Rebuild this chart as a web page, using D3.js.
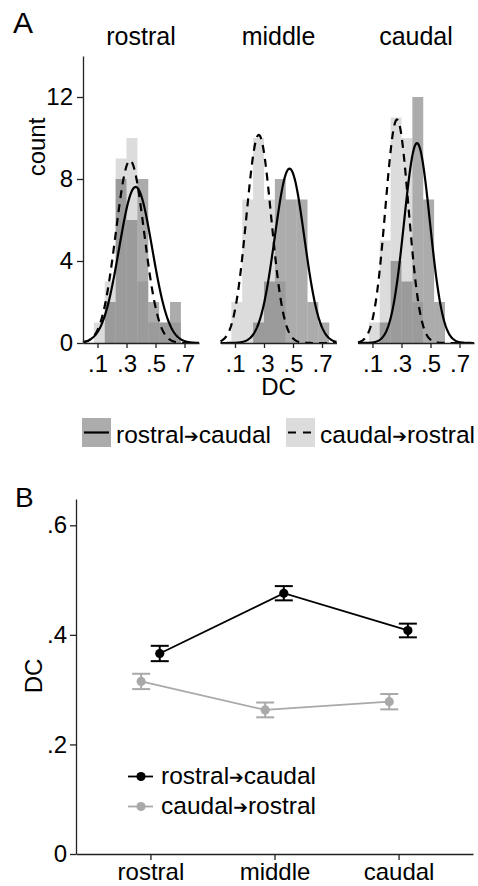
<!DOCTYPE html>
<html>
<head>
<meta charset="utf-8">
<script src="https://cdn.jsdelivr.net/npm/d3@7"></script>
<style>
body { margin: 0; background: #fff; }
svg text { font-family: "Liberation Sans", Arial, sans-serif; fill: #000; }
</style>
</head>
<body>
<script>
// ---- data ----
var regions = ["rostral", "middle", "caudal"];

// panel A: histogram counts, bins of .075 starting at 0
var binStart = [0, 0.075, 0.15, 0.225, 0.3, 0.375, 0.45, 0.525, 0.6, 0.675, 0.75];
var binWidth = 0.075;
var rcRostral = [0, 0, 2, 8, 6, 8, 2, 1, 2, 0, 0];
var crRostral = [0, 1, 3, 9, 10, 3, 1, 1, 1, 0, 0];
var rcMiddle  = [0, 0, 0, 1, 3, 8, 7, 7, 2, 1, 0];
var crMiddle  = [0, 2, 7, 10, 7, 3, 0, 0, 0, 0, 0];
var rcCaudal  = [0, 0, 1, 4, 3, 12, 7, 2, 0, 0, 0];
var crCaudal  = [0, 1, 5, 11, 10, 2, 0, 0, 0, 0, 0];

// fitted normal curves (mean, sd) per region
var rcFitMean = [0.363, 0.476, 0.407];
var rcFitSd   = [0.114, 0.102, 0.089];
var crFitMean = [0.324, 0.264, 0.269];
var crFitSd   = [0.0975, 0.0855, 0.0796];

var xTicksA = [0.1, 0.3, 0.5, 0.7];
var yTicksA = [0, 4, 8, 12];

// panel B: mean DC and standard error
var rcMean = [0.366, 0.476, 0.408];
var rcSe   = [0.014, 0.013, 0.0125];
var crMean = [0.315, 0.263, 0.278];
var crSe   = [0.014, 0.0135, 0.014];
var yTicksB = [0, 0.2, 0.4, 0.6];

var rcLabel = ["rostral", "caudal"];
var crLabel = ["caudal", "rostral"];

// ---- drawing ----
var w = 478, h = 886;
var fs = 24;
var rcOnly = "#acacac", crOnly = "#dcdcdc", grey = "#a9a9a9";

var svg = d3.select("body").append("svg")
  .attr("width", w)
  .attr("height", h);

function dcFormat(d) {
  return d === 0 ? "0" : d3.format(".1f")(d).replace(/^0/, "");
}

function styleAxis(g) {
  g.attr("font-size", fs).attr("font-family", null);
  g.selectAll("path, line").attr("stroke", "#222").attr("stroke-width", 1.3);
}

// "from -> to" label with a heavy arrow
function arrowLabel(sel, parts) {
  sel.append("tspan").text(parts[0]);
  sel.append("tspan")
    .attr("font-family", "DejaVu Sans")
    .attr("font-size", 17.5)
    .attr("dy", -1)
    .text("\u2794");
  sel.append("tspan").attr("dy", 1).text(parts[1]);
}

// panel labels
svg.append("text").attr("x", 13).attr("y", 33).attr("font-size", 30).text("A");
svg.append("text").attr("x", 15).attr("y", 507).attr("font-size", 28).text("B");

// ----- panel A -----
var facet = d3.scaleBand().domain(regions).range([83, 474]).paddingInner(0.156);
var yA = d3.scaleLinear().domain([0, 14]).range([343, 56]);
var counts = [[rcRostral, crRostral], [rcMiddle, crMiddle], [rcCaudal, crCaudal]];

regions.forEach(function(r, i) {
  var g = svg.append("g").attr("transform", "translate(" + facet(r) + ",0)");
  var x = d3.scaleLinear().domain([0, 0.8]).range([0, facet.bandwidth()]);

  g.append("text")
    .attr("x", facet.bandwidth() / 2)
    .attr("y", 45)
    .attr("text-anchor", "middle")
    .attr("font-size", 25)
    .text(r);

  // caudal->rostral first, rostral->caudal on top (both half transparent)
  [[counts[i][1], "#b9b9b9"], [counts[i][0], "#595959"]].forEach(function(s) {
    var bins = binStart.map(function(b, j) { return {b: b, c: s[0][j]}; })
      .filter(function(d) { return d.c > 0; });
    g.append("g").selectAll("rect")
      .data(bins)
      .enter()
      .append("rect")
      .attr("x", function(d) { return x(d.b); })
      .attr("width", x(binWidth) - x(0))
      .attr("y", function(d) { return yA(d.c); })
      .attr("height", function(d) { return yA(0) - yA(d.c); })
      .attr("fill", s[1])
      .attr("fill-opacity", 0.5);
  });

  // normal curves scaled to counts
  var grid = d3.range(0, 0.8001, 0.004);
  var fits = [
    [crFitMean[i], crFitSd[i], d3.sum(counts[i][1]), "8,6"],
    [rcFitMean[i], rcFitSd[i], d3.sum(counts[i][0]), null]
  ];
  fits.forEach(function(f) {
    var line = d3.line()
      .x(function(v) { return x(v); })
      .y(function(v) {
        var z = (v - f[0]) / f[1];
        return yA(f[2] * binWidth * Math.exp(-0.5 * z * z) / (f[1] * Math.sqrt(2 * Math.PI)));
      });
    g.append("path")
      .datum(grid)
      .attr("d", line)
      .attr("fill", "none")
      .attr("stroke", "#000")
      .attr("stroke-width", 2.2)
      .attr("stroke-dasharray", f[3]);
  });

  g.append("g")
    .attr("transform", "translate(0,343)")
    .call(d3.axisBottom(x).tickValues(xTicksA).tickFormat(dcFormat)
      .tickSize(5).tickSizeOuter(0).tickPadding(7))
    .call(styleAxis);
});

svg.append("g")
  .attr("transform", "translate(83,0)")
  .call(d3.axisLeft(yA).tickValues(yTicksA).tickFormat(d3.format("d"))
    .tickSize(6).tickSizeOuter(0).tickPadding(4))
  .call(styleAxis);

svg.append("text")
  .attr("transform", "translate(45,147) rotate(-90)")
  .attr("text-anchor", "middle")
  .attr("font-size", fs)
  .text("count");

svg.append("text")
  .attr("x", facet("middle") + facet.bandwidth() / 2)
  .attr("y", 395)
  .attr("text-anchor", "middle")
  .attr("font-size", fs)
  .text("DC");

// legend A
var legA = [
  {x: 82, fill: rcOnly, dash: null, label: rcLabel},
  {x: 286, fill: crOnly, dash: "8,7", label: crLabel}
];
legA.forEach(function(d) {
  svg.append("rect").attr("x", d.x).attr("y", 418).attr("width", 29).attr("height", 29).attr("fill", d.fill);
  svg.append("line")
    .attr("x1", d.x + 2).attr("x2", d.x + 27)
    .attr("y1", 432.5).attr("y2", 432.5)
    .attr("stroke", "#000").attr("stroke-width", 2.2)
    .attr("stroke-dasharray", d.dash);
  svg.append("text").attr("x", d.x + 34).attr("y", 443).attr("font-size", 24.5)
    .call(arrowLabel, d.label);
});

// ----- panel B -----
var xB = d3.scalePoint().domain(regions).range([76, 473]).padding(0.6);
var yB = d3.scaleLinear().domain([0, 0.648]).range([854, 499]);
var dodge = 9.3;

var seriesB = [
  {mean: crMean, se: crSe, color: grey, dx: -dodge},
  {mean: rcMean, se: rcSe, color: "#000", dx: dodge}
];

seriesB.forEach(function(s) {
  var pts = regions.map(function(r, i) {
    return {x: xB(r) + s.dx, m: s.mean[i], se: s.se[i]};
  });
  svg.append("path")
    .datum(pts)
    .attr("d", d3.line().x(function(d) { return d.x; }).y(function(d) { return yB(d.m); }))
    .attr("fill", "none")
    .attr("stroke", s.color)
    .attr("stroke-width", 1.8);
  var eb = svg.append("g").selectAll("g").data(pts).enter().append("g")
    .attr("stroke", s.color).attr("stroke-width", 2);
  eb.append("line")
    .attr("x1", function(d) { return d.x; }).attr("x2", function(d) { return d.x; })
    .attr("y1", function(d) { return yB(d.m - d.se); })
    .attr("y2", function(d) { return yB(d.m + d.se); });
  [-1, 1].forEach(function(k) {
    eb.append("line")
      .attr("x1", function(d) { return d.x - 9; }).attr("x2", function(d) { return d.x + 9; })
      .attr("y1", function(d) { return yB(d.m + k * d.se); })
      .attr("y2", function(d) { return yB(d.m + k * d.se); });
  });
  svg.append("g").selectAll("circle").data(pts).enter().append("circle")
    .attr("cx", function(d) { return d.x; })
    .attr("cy", function(d) { return yB(d.m); })
    .attr("r", 4.6)
    .attr("fill", s.color);
});

svg.append("g")
  .attr("transform", "translate(76,0)")
  .call(d3.axisLeft(yB).tickValues(yTicksB).tickFormat(dcFormat)
    .tickSize(6).tickSizeOuter(0).tickPadding(3))
  .call(styleAxis);

svg.append("g")
  .attr("transform", "translate(0,854)")
  .call(d3.axisBottom(xB).tickSize(6).tickSizeOuter(0).tickPadding(3))
  .call(styleAxis);

svg.append("text")
  .attr("transform", "translate(42,676) rotate(-90)")
  .attr("text-anchor", "middle")
  .attr("font-size", fs)
  .text("DC");

// legend B
var legB = [
  {y: 776.5, color: "#000", label: rcLabel},
  {y: 806.5, color: grey, label: crLabel}
];
legB.forEach(function(d) {
  svg.append("line")
    .attr("x1", 128).attr("x2", 153)
    .attr("y1", d.y).attr("y2", d.y)
    .attr("stroke", d.color).attr("stroke-width", 1.8);
  svg.append("circle").attr("cx", 141).attr("cy", d.y).attr("r", 4.6).attr("fill", d.color);
  svg.append("text").attr("x", 161).attr("y", d.y + 7.5).attr("font-size", 24.5)
    .call(arrowLabel, d.label);
});
</script>
</body>
</html>
